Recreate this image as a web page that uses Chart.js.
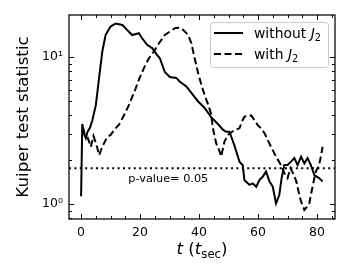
<!DOCTYPE html>
<html>
<head>
<meta charset="utf-8">
<script src="https://cdn.jsdelivr.net/npm/chart.js@4.4.1/dist/chart.umd.min.js"></script>
<style>html,body{margin:0;padding:0;background:#fff}</style>
</head>
<body>
<canvas id="graficoKuiper" width="350" height="280"></canvas>
<script>
// tiempo en unidades de t_sec
const tSinJ2 = [0, 0.4, 1.0, 1.6, 2.2, 3.0, 3.8, 5.0, 6.1, 7.2, 8.3, 10.0, 11.7, 14.0, 15.6, 17.3, 19.6, 20.7, 22.4, 24.1, 25.8, 26.7, 28.4, 30.1, 32.3, 33.4, 35.7, 37.4, 39.6, 41.9, 44.1, 46.4, 48.1, 49.2, 50.3, 52.0, 53.7, 54.8, 55.4, 57.1, 58.2, 59.4, 60.5, 61.6, 62.7, 63.9, 65.0, 66.1, 67.2, 68.0, 68.9, 70.0, 71.2, 72.3, 73.4, 74.6, 75.7, 76.8, 77.9, 79.1, 80.7, 81.9];
const kSinJ2 = [1.13, 3.5, 3.0, 2.8, 3.1, 3.3, 3.7, 4.7, 7.2, 10.9, 14.1, 16.1, 16.9, 16.5, 15.3, 14.1, 14.5, 13.4, 12.1, 11.5, 10.3, 9.8, 7.9, 7.3, 7.2, 6.8, 6.3, 5.7, 5.0, 4.5, 3.9, 3.5, 3.2, 3.1, 3.1, 2.5, 1.94, 1.84, 1.45, 1.35, 1.38, 1.31, 1.46, 1.53, 1.66, 1.42, 1.31, 1.01, 1.15, 1.5, 1.84, 1.84, 1.94, 2.05, 1.84, 2.1, 1.89, 2.05, 1.84, 1.57, 1.5, 1.42];

const tConJ2 = [0.6, 1.2, 2.1, 3.3, 4.2, 5.0, 5.5, 6.1, 7.2, 8.9, 10.0, 11.7, 12.8, 14.0, 14.5, 16.2, 18.5, 19.6, 21.3, 23.0, 24.7, 26.4, 28.4, 30.1, 31.8, 32.9, 34.6, 36.3, 37.4, 38.5, 39.6, 40.8, 41.9, 43.0, 44.1, 44.7, 45.8, 47.0, 47.5, 48.6, 49.8, 52.0, 53.7, 54.8, 55.4, 57.7, 59.9, 61.0, 62.2, 63.3, 64.4, 66.1, 67.8, 68.9, 70.0, 71.0, 72.0, 73.0, 74.0, 74.6, 75.7, 76.5, 77.4, 77.9, 78.5, 79.1, 79.6, 80.7, 81.3, 81.9];
const kConJ2 = [3.3, 3.0, 2.87, 2.45, 2.9, 2.6, 2.4, 2.15, 2.45, 2.87, 2.95, 3.27, 3.45, 3.83, 4.0, 4.7, 6.1, 7.0, 8.4, 9.8, 10.9, 12.4, 14.1, 14.9, 15.7, 15.8, 15.3, 14.1, 12.4, 9.8, 7.9, 6.45, 5.5, 4.8, 4.1, 3.27, 2.59, 2.27, 2.1, 2.65, 2.95, 3.18, 3.27, 3.73, 3.93, 4.0, 3.44, 3.27, 3.03, 2.72, 2.45, 2.1, 1.84, 1.62, 1.5, 1.75, 1.6, 1.42, 1.15, 1.04, 0.91, 0.95, 1.01, 1.15, 1.31, 1.5, 1.66, 1.84, 2.1, 2.45];

const pValor = 1.747;
const etiquetaP = "p-value= 0.05";

const xMayores = [0, 20, 40, 60, 80];
const xMenores = [5, 10, 15, 25, 30, 35, 45, 50, 55, 65, 70, 75, 85];
const yMayores = [1, 10];
const yEtiquetas = ["10\u2070", "10\u00b9"];
const yMenores = [0.8, 0.9, 2, 3, 4, 5, 6, 7, 8, 9];

const xMin = -4.1, xMax = 86.1, yMin = 0.79, yMax = 19.3;
const fuente = "DejaVu Sans";

function puntos(xs, ys) {
  return xs.map((x, i) => ({x: x, y: ys[i]}));
}

// dibuja texto con partes en cursiva / subindice
function textoRico(ctx, partes, x, y, size, align) {
  const fontDe = p => (p.it ? "italic " : "") + (p.sub ? size * 0.7 : size) + "px '" + fuente + "'";
  let total = 0;
  partes.forEach(p => { ctx.font = fontDe(p); total += ctx.measureText(p.t).width; });
  let cx = align === "center" ? x - total / 2 : x;
  ctx.textBaseline = "alphabetic";
  ctx.textAlign = "left";
  partes.forEach(p => {
    ctx.font = fontDe(p);
    ctx.fillText(p.t, cx, p.sub ? y + size * 0.22 : y);
    cx += ctx.measureText(p.t).width;
  });
}

const marco = {
  id: "marco",
  afterDatasetsDraw(chart) {
    const ctx = chart.ctx, a = chart.chartArea;
    const xs = chart.scales.x, ys = chart.scales.y;
    ctx.save();
    ctx.strokeStyle = "#000";
    ctx.fillStyle = "#000";
    ctx.lineWidth = 1;
    const linea = (x1, y1, x2, y2) => { ctx.beginPath(); ctx.moveTo(x1, y1); ctx.lineTo(x2, y2); ctx.stroke(); };
    xMayores.concat(xMenores).forEach(v => {
      const p = Math.round(xs.getPixelForValue(v)) + 0.5;
      const l = xMayores.includes(v) ? 5 : 3;
      linea(p, a.bottom, p, a.bottom - l);
      linea(p, a.top, p, a.top + l);
    });
    yMayores.concat(yMenores).forEach(v => {
      const p = Math.round(ys.getPixelForValue(v)) + 0.5;
      const l = yMayores.includes(v) ? 5 : 3;
      linea(a.left, p, a.left + l, p);
      linea(a.right, p, a.right - l, p);
    });
    ctx.lineWidth = 1.25;
    ctx.strokeRect(a.left, a.top, a.right - a.left, a.bottom - a.top);

    // texto del p-valor
    ctx.font = "11.3px '" + fuente + "'";
    ctx.textAlign = "left";
    ctx.textBaseline = "middle";
    ctx.fillText(etiquetaP, xs.getPixelForValue(16), ys.getPixelForValue(1.48));

    // leyenda
    const bw = 118, bh = 45;
    const bx = a.right - 7 - bw, by = a.top + 7;
    ctx.beginPath();
    ctx.roundRect(bx + 0.5, by + 0.5, bw, bh, 3);
    ctx.fillStyle = "rgba(255,255,255,0.8)";
    ctx.fill();
    ctx.strokeStyle = "#cccccc";
    ctx.lineWidth = 1;
    ctx.stroke();
    ctx.strokeStyle = "#000";
    ctx.fillStyle = "#000";
    ctx.lineWidth = 2;
    const filas = [
      {dash: [], partes: [{t: "without "}, {t: "J", it: true}, {t: "2", sub: true}]},
      {dash: [7, 3.5], partes: [{t: "with "}, {t: "J", it: true}, {t: "2", sub: true}]}
    ];
    filas.forEach((f, i) => {
      const yy = by + 11 + i * 21;
      ctx.setLineDash(f.dash);
      linea(bx + 4, yy, bx + 33, yy);
      ctx.setLineDash([]);
      textoRico(ctx, f.partes, bx + 44, yy + 5, 13.9, "left");
    });

    // titulos de ejes
    textoRico(ctx, [{t: "t", it: true}, {t: " ("}, {t: "t", it: true}, {t: "sec", sub: true}, {t: ")"}],
      (a.left + a.right) / 2, 254, 16.7, "center");
    ctx.translate(24, (a.top + a.bottom) / 2);
    ctx.rotate(-Math.PI / 2);
    ctx.font = "16.7px '" + fuente + "'";
    ctx.textAlign = "center";
    ctx.textBaseline = "middle";
    ctx.fillText("Kuiper test statistic", 0, 0);
    ctx.restore();
  }
};

var ctx = document.getElementById("graficoKuiper").getContext("2d");

const grafico = new Chart(ctx, {
  type: "line",
  data: {
    datasets: [
      {
        label: "without J2",
        data: puntos(tSinJ2, kSinJ2),
        borderColor: "#000",
        borderWidth: 2,
        pointRadius: 0,
        tension: 0
      },
      {
        label: "with J2",
        data: puntos(tConJ2, kConJ2),
        borderColor: "#000",
        borderWidth: 2,
        borderDash: [7, 3.5],
        pointRadius: 0,
        tension: 0
      },
      {
        label: "p-value",
        data: puntos([xMin, xMax], [pValor, pValor]),
        borderColor: "#000",
        borderWidth: 2,
        borderDash: [2, 3.4],
        pointRadius: 0
      }
    ]
  },
  options: {
    responsive: false,
    animation: false,
    devicePixelRatio: 1,
    layout: {padding: {left: 0, right: 15, top: 15, bottom: 0}},
    plugins: {legend: {display: false}, tooltip: {enabled: false}},
    scales: {
      x: {
        type: "linear",
        min: xMin,
        max: xMax,
        grid: {display: false, drawTicks: false},
        border: {display: false},
        afterBuildTicks: s => { s.ticks = xMayores.map(v => ({value: v})); },
        afterFit: s => { s.height = 61; },
        ticks: {
          color: "#000",
          padding: 6,
          autoSkip: false,
          maxRotation: 0,
          font: {family: fuente, size: 12.5},
          callback: v => v
        }
      },
      y: {
        type: "logarithmic",
        min: yMin,
        max: yMax,
        grid: {display: false, drawTicks: false},
        border: {display: false},
        afterBuildTicks: s => { s.ticks = yMayores.map(v => ({value: v})); },
        afterFit: s => { s.width = 69; },
        ticks: {
          color: "#000",
          padding: 6,
          font: {family: fuente, size: 12.5},
          callback: v => yEtiquetas[yMayores.indexOf(v)]
        }
      }
    }
  },
  plugins: [marco]
});
</script>
</body>
</html>
